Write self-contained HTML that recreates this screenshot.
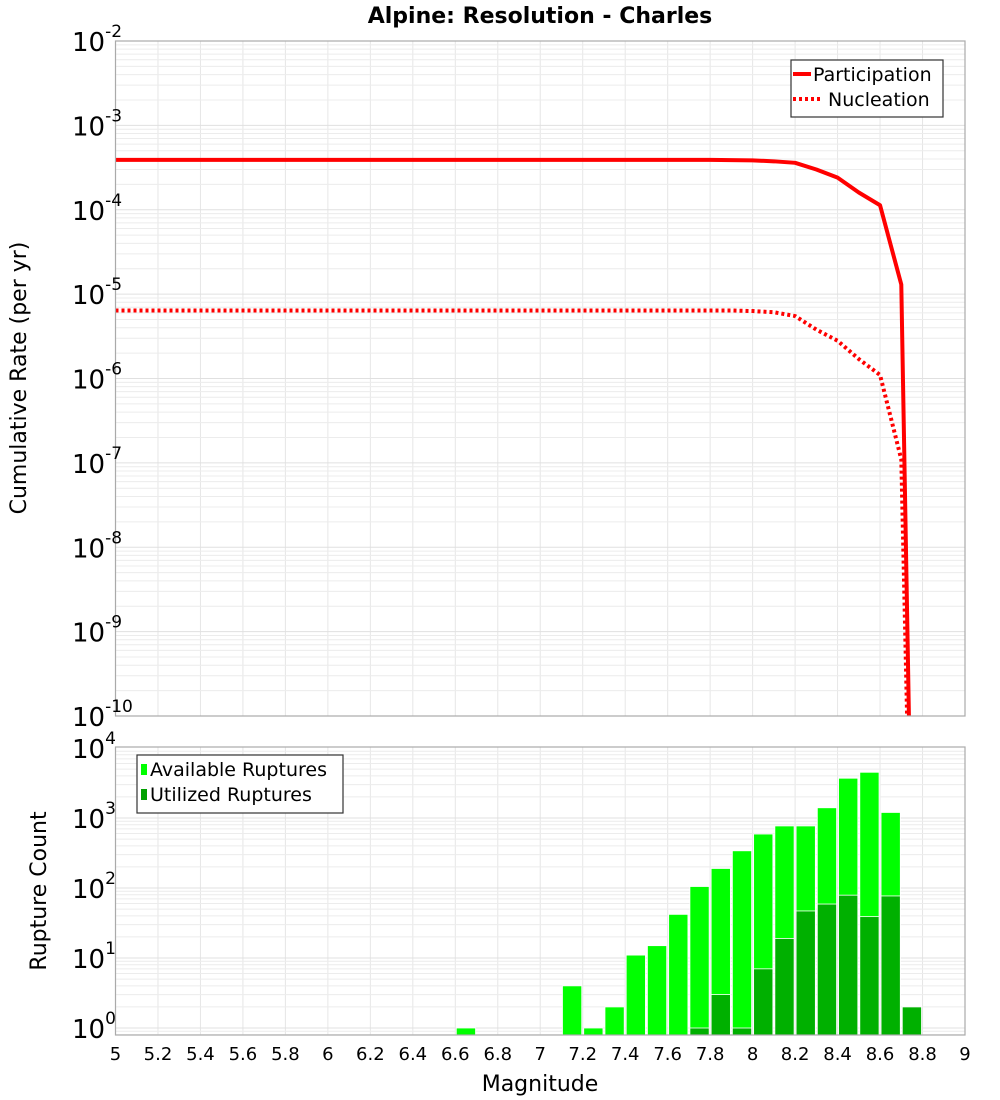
<!DOCTYPE html>
<html><head><meta charset="utf-8">
<style>
html,body{margin:0;padding:0;background:#fff;}
svg{display:block;font-family:"DejaVu Sans","Liberation Sans",sans-serif;}
</style></head>
<body>
<svg id="chart" width="1000" height="1100" viewBox="0 0 1000 1100" xmlns="http://www.w3.org/2000/svg">
<text x="540" y="23" text-anchor="middle" font-size="22" font-weight="bold">Alpine: Resolution - Charles</text>
<text transform="translate(26,378) rotate(-90)" text-anchor="middle" font-size="22">Cumulative Rate (per yr)</text>
<text transform="translate(46,891) rotate(-90)" text-anchor="middle" font-size="22">Rupture Count</text>
<text x="540" y="1091" text-anchor="middle" font-size="22">Magnitude</text>
<g id="topPlot"></g>
<g id="botPlot"></g>
</svg>
<script>
const magnitudes=[5.0,5.1,5.2,5.3,5.4,5.5,5.6,5.7,5.8,5.9,6.0,6.1,6.2,6.3,6.4,6.5,6.6,6.7,6.8,6.9,7.0,7.1,7.2,7.3,7.4,7.5,7.6,7.7,7.8,7.9,8.0,8.1,8.2,8.3,8.4,8.5,8.6,8.7,8.75];
const participation=[3.9e-4,3.9e-4,3.9e-4,3.9e-4,3.9e-4,3.9e-4,3.9e-4,3.9e-4,3.9e-4,3.9e-4,3.9e-4,3.9e-4,3.9e-4,3.9e-4,3.9e-4,3.9e-4,3.9e-4,3.9e-4,3.9e-4,3.9e-4,3.9e-4,3.9e-4,3.9e-4,3.9e-4,3.9e-4,3.9e-4,3.9e-4,3.9e-4,3.9e-4,3.88e-4,3.85e-4,3.75e-4,3.6e-4,3.0e-4,2.4e-4,1.6e-4,1.13e-4,1.3e-5,1e-12];
const nucleation=[6.4e-6,6.4e-6,6.4e-6,6.4e-6,6.4e-6,6.4e-6,6.4e-6,6.4e-6,6.4e-6,6.4e-6,6.4e-6,6.4e-6,6.4e-6,6.4e-6,6.4e-6,6.4e-6,6.4e-6,6.4e-6,6.4e-6,6.4e-6,6.4e-6,6.4e-6,6.4e-6,6.4e-6,6.4e-6,6.4e-6,6.4e-6,6.4e-6,6.4e-6,6.4e-6,6.3e-6,6.1e-6,5.5e-6,3.8e-6,2.8e-6,1.7e-6,1.1e-6,1.1e-7,3e-13];
const binCenters=[6.65,7.15,7.25,7.35,7.45,7.55,7.65,7.75,7.85,7.95,8.05,8.15,8.25,8.35,8.45,8.55,8.65,8.75];
const availableCounts=[1,4,1,2,11,15,42,105,190,340,590,770,770,1400,3700,4500,1200,2];
const utilizedCounts=[0,0,0,0,0,0,0,1,3,1,7,19,47,59,79,39,77,2];
const xTicks=["5","5.2","5.4","5.6","5.8","6","6.2","6.4","6.6","6.8","7","7.2","7.4","7.6","7.8","8","8.2","8.4","8.6","8.8","9"];
const topExps=[-2,-3,-4,-5,-6,-7,-8,-9,-10];
const botExps=[4,3,2,1,0];

const NS="http://www.w3.org/2000/svg";
const L=115.5,R=965;
const T1=41,B1=716,T2=747,B2=1035;
const xs=m=>L+(m-5)/4*(R-L);
const ys1=v=>T1+(-2-Math.log10(v))*(B1-T1)/8;
const ys2=v=>748+(4-Math.log10(v))*70;
function mk(tag,attrs,parent){const e=document.createElementNS(NS,tag);for(const k in attrs)e.setAttribute(k,attrs[k]);parent.appendChild(e);return e;}
const svgRoot=document.getElementById('chart');
const gTop=document.getElementById('topPlot'),gBot=document.getElementById('botPlot');

function grid(g,T,B,ys,eMin,eMax){
  for(let i=0;i<=20;i++){const x=xs(5+i*0.2);const l=mk('line',{x1:x,x2:x,y1:T,y2:B,stroke:'#e6e6e6','stroke-width':1},g);
    
    }
  for(let e=eMin;e<eMax;e++)for(let k=1;k<10;k++){const y=ys(k*Math.pow(10,e));if(y<T||y>B)continue;
    const l=mk('line',{x1:L,x2:R,y1:y,y2:y,stroke:k==1?'#e0e0e0':'#ececec','stroke-width':1},g);
    
    }
}
grid(gTop,T1,B1,ys1,-10,-2);
grid(gBot,T2,B2,ys2,-1,4);

const clip=mk('clipPath',{id:'c1'},svgRoot);
mk('rect',{x:L,y:T1,width:R-L,height:B1-T1},clip);
const tg=mk('g',{'clip-path':'url(#c1)'},gTop);


function series(vals,dash,name){
  const pts=magnitudes.map((m,i)=>xs(m)+','+ys1(vals[i])).join(' ');
  const p=mk('polyline',{points:pts,fill:'none',stroke:'#ff0000','stroke-width':4,'stroke-dasharray':dash,'stroke-linejoin':'round'},tg);
  
  
}
series(nucleation,'3,3','nucleation-line');
series(participation,'none','participation-line');
const f1=mk('rect',{x:L,y:T1,width:R-L,height:B1-T1,fill:'none',stroke:'#aaa','stroke-width':1.2},gTop);



topExps.forEach(e=>{const y=ys1(Math.pow(10,e));
  const t=mk('text',{x:72,y:y+10,'font-size':26},gTop);
  
  
  t.innerHTML='10<tspan dy="-14" font-size="17">'+e+'</tspan>';
});

const clip2=mk('clipPath',{id:'c2'},svgRoot);
mk('rect',{x:L,y:T2,width:R-L,height:B2-T2},clip2);
const bg=mk('g',{'clip-path':'url(#c2)'},gBot);


binCenters.forEach((m,i)=>{
  const x0=xs(m-0.05)+1,x1=xs(m+0.05)-1;
  if(availableCounts[i]>0){const y=ys2(availableCounts[i]);
    const r=mk('rect',{x:x0,y:y,width:x1-x0,height:B2-y,fill:'#00ff00',stroke:'#ffffff','stroke-width':0.8},bg);
    
    }
  if(utilizedCounts[i]>0){const y=ys2(utilizedCounts[i]);
    const r=mk('rect',{x:x0,y:y,width:x1-x0,height:B2-y,fill:'#00b000',stroke:'#ffffff','stroke-width':0.8},bg);
    
    }
});
const f2=mk('rect',{x:L,y:T2,width:R-L,height:B2-T2,fill:'none',stroke:'#aaa','stroke-width':1.2},gBot);


botExps.forEach(e=>{const y=ys2(Math.pow(10,e));
  const t=mk('text',{x:72,y:y+10,'font-size':26},gBot);
  
  
  t.innerHTML='10<tspan dy="-14" font-size="17">'+e+'</tspan>';
});
xTicks.forEach(s=>{const x=xs(parseFloat(s));
  const t=mk('text',{x:x,y:1060,'text-anchor':'middle','font-size':18},gBot);
  
  
  t.textContent=s;});

function legend(g,x,y,w,h,items,name){
  const lg=mk('g',{},g);
  
  
  mk('rect',{x:x,y:y,width:w,height:h,fill:'#fff',stroke:'#333','stroke-width':1.2},lg);
  items.forEach((it,i)=>{const cy=y+14+i*25;it.draw(lg,cy);
    const t=mk('text',{x:it.tx,y:cy+7,'font-size':19},lg);
    
    
    t.textContent=it.label;});
}
legend(gTop,791,60,152,57,[
 {label:'Participation',tx:813,draw:(g,cy)=>mk('line',{x1:793,x2:811,y1:cy,y2:cy,stroke:'#f00','stroke-width':4},g)},
 {label:'Nucleation',tx:828,draw:(g,cy)=>mk('line',{x1:793,x2:820,y1:cy,y2:cy,stroke:'#f00','stroke-width':4,'stroke-dasharray':'3,3'},g)}
],'rate-legend');
legend(gBot,137,755,206,58,[
 {label:'Available Ruptures',tx:150,draw:(g,cy)=>mk('rect',{x:141,y:cy-5,width:6,height:11,fill:'#00ff00'},g)},
 {label:'Utilized Ruptures',tx:150,draw:(g,cy)=>mk('rect',{x:141,y:cy-5,width:6,height:11,fill:'#00a000'},g)}
],'count-legend');
</script>
</body></html>
